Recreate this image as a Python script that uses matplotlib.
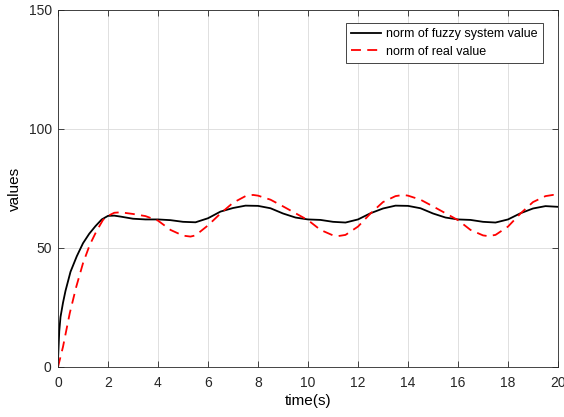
import matplotlib

matplotlib.use("Agg")
import matplotlib.pyplot as plt

# values
time_fuzzy = [0, 0.05, 0.1, 0.2, 0.3, 0.4, 0.5, 0.75, 1.0, 1.25, 1.5, 1.75, 2.0, 2.25,
              2.5, 3.0, 3.5, 4.0, 4.5, 5.0, 5.5, 6.0, 6.5, 7.0, 7.5, 8.0, 8.5, 9.0,
              9.5, 10.0, 10.5, 11.0, 11.5, 12.0, 12.5, 13.0, 13.5, 14.0, 14.5, 15.0,
              15.5, 16.0, 16.5, 17.0, 17.5, 18.0, 18.5, 19.0, 19.5, 20.0]
norm_fuzzy = [3, 15, 21, 27, 32, 36, 40, 46.5, 52, 56, 59.2, 62, 63.5, 63.6,
              63.2, 62.3, 62.0, 62.0, 61.7, 61.0, 60.8, 62.5, 65.3, 66.8, 67.8, 67.7, 66.7, 64.5,
              62.8, 62.0, 61.8, 61.0, 60.7, 62.0, 64.6, 66.6, 67.8, 67.7, 66.7, 64.5,
              62.8, 62.0, 61.8, 61.0, 60.7, 62.0, 64.6, 66.6, 67.6, 67.3]

time_real = [0, 0.2, 0.47, 0.73, 1.0, 1.27, 1.53, 1.8, 2.0, 2.25, 2.5, 3.0, 3.5, 4.0,
             4.5, 5.0, 5.3, 5.5, 6.0, 6.5, 7.0, 7.5, 7.8, 8.0, 8.5, 9.0, 9.5, 10.0,
             10.5, 11.0, 11.2, 11.5, 12.0, 12.5, 13.0, 13.5, 13.8, 14.0, 14.5, 15.0,
             15.5, 16.0, 16.5, 17.0, 17.2, 17.5, 18.0, 18.5, 19.0, 19.5, 19.8, 20.0]
norm_real = [0, 8.5, 22.6, 33.7, 43.6, 51.3, 56.9, 61.8, 63.5, 64.8, 65.0, 64.3, 63.4, 61.5,
             57.6, 55.2, 54.8, 55.3, 59.5, 64.5, 69.0, 71.8, 72.3, 72.0, 70.3, 67.5, 64.6, 61.7,
             57.6, 55.3, 55.0, 55.5, 59.0, 64.5, 69.3, 71.8, 72.3, 72.0, 70.3, 67.5,
             64.6, 61.7, 57.6, 55.3, 55.0, 55.5, 59.0, 64.5, 69.3, 71.8, 72.3, 72.0]

X_TICKS = list(range(0, 21, 2))
Y_TICKS = [0, 50, 100, 150]


def main() -> None:
    plt.rcParams.update(
        {
            "font.family": ["Liberation Sans", "DejaVu Sans"],
            "font.size": 10,
            "axes.edgecolor": "#262626",
            "axes.linewidth": 0.6,
            "xtick.direction": "in",
            "ytick.direction": "in",
            "xtick.top": True,
            "ytick.right": True,
            "xtick.color": "#262626",
            "ytick.color": "#262626",
        }
    )
    fig = plt.figure(figsize=(5.64, 4.17), dpi=100)
    ax = fig.add_axes([58 / 564, 1 - 367 / 417, 500 / 564, 357 / 417])

    ax.plot(time_fuzzy, norm_fuzzy, color="black", linewidth=1.3,
            label="norm of fuzzy system value")
    ax.plot(time_real, norm_real, color="red", linewidth=1.3, linestyle=(0, (5.5, 3.5)),
            label="norm of real value")

    ax.set_xlim(0, 20)
    ax.set_ylim(0, 150)
    ax.set_xticks(X_TICKS)
    ax.set_yticks(Y_TICKS)
    ax.tick_params(length=4, width=0.6, labelsize=10)
    ax.tick_params(axis="x", pad=6.5)
    ax.tick_params(axis="y", pad=4.5)
    ax.grid(True, color="#dadada", linewidth=0.6)
    ax.set_axisbelow(True)
    ax.set_xlabel("time(s)", fontsize=11, labelpad=3)
    ax.set_ylabel("values", fontsize=11, labelpad=5)

    leg = ax.legend(loc="upper right", bbox_to_anchor=(0.97, 0.9636), borderaxespad=0,
                    fontsize=9, fancybox=False, framealpha=1, edgecolor="#262626",
                    handlelength=2.4, borderpad=0.4, labelspacing=0.45, handletextpad=0.45)
    leg.get_frame().set_linewidth(0.6)

    fig.savefig("out.png", dpi=100)
    plt.close(fig)


if __name__ == "__main__":
    main()
